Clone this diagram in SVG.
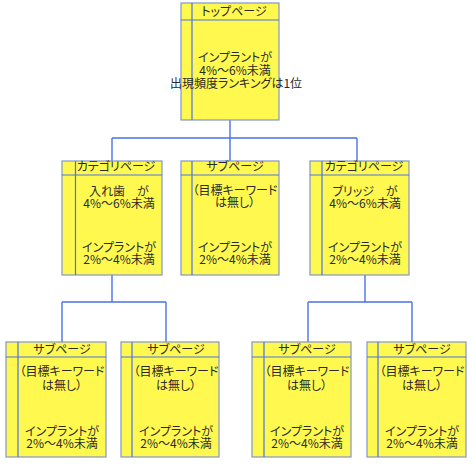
<svg xmlns="http://www.w3.org/2000/svg" width="472" height="464" viewBox="0 0 472 464">
<style>
.box{fill:#FFF94F;stroke:#8095d0;stroke-width:1.2}
.ln{stroke:#4a72e8;stroke-width:1.2;fill:none}
.t{font-family:"Noto Sans CJK JP","Noto Sans",sans-serif;font-size:12px;font-feature-settings:"palt";fill:#2a2a2a;text-anchor:middle}
.c{stroke:#4a72e8;stroke-width:1.4;fill:none}
</style>
<rect width="472" height="464" fill="#fff"/>
<g id="connectors">
<path class="c" d="M230 120V161M112 138H357M112 138V161M357 138V161"/>
<path class="c" d="M112 275V302M62 302H166M62 302V342M166 302V342"/>
<path class="c" d="M365 275V302M308 302H412M308 302V342M412 302V342"/>
</g>
<g id="top">
<rect class="box" x="181" y="3" width="98" height="117"/>
<path class="ln" d="M181 20H279M192 3V120"/>
<text class="t" x="234" y="16">トップページ</text>
<text class="t" x="235" y="62">インプラントが</text>
<text class="t" x="235" y="75">4%～6%未満</text>
<text class="t" x="236" y="88">出現頻度ランキングは1位</text>
</g>
<g id="cat1">
<rect class="box" x="62" y="161" width="100" height="114"/>
<path class="ln" d="M62 175H162M75.5 161V275"/>
<text class="t" x="116" y="171">カテゴリページ</text>
<text class="t" x="119" y="196">入れ歯　が</text>
<text class="t" x="119" y="208">4%～6%未満</text>
<text class="t" x="119" y="252">インプラントが</text>
<text class="t" x="119" y="264">2%～4%未満</text>
</g>
<g id="sub0">
<rect class="box" x="181" y="161" width="98" height="114"/>
<path class="ln" d="M181 175H279M192 161V275"/>
<text class="t" x="235" y="171">サブページ</text>
<text class="t" x="235" y="195">（目標キーワード</text>
<text class="t" x="235" y="207">は無し）</text>
<text class="t" x="235" y="252">インプラントが</text>
<text class="t" x="235" y="264">2%～4%未満</text>
</g>
<g id="cat2">
<rect class="box" x="310" y="161" width="99" height="114"/>
<path class="ln" d="M310 175H409M322 161V275"/>
<text class="t" x="364" y="171">カテゴリページ</text>
<text class="t" x="365" y="196">ブリッジ　が</text>
<text class="t" x="365" y="208">4%～6%未満</text>
<text class="t" x="365" y="252">インプラントが</text>
<text class="t" x="365" y="264">2%～4%未満</text>
</g>
<g id="sub1">
<rect class="box" x="6" y="342" width="100" height="115"/>
<path class="ln" d="M6 357H106M18 342V457"/>
<text class="t" x="62" y="354">サブページ</text>
<text class="t" x="62" y="376">（目標キーワード</text>
<text class="t" x="62" y="390">は無し）</text>
<text class="t" x="62" y="436">インプラントが</text>
<text class="t" x="62" y="448">2%～4%未満</text>
</g>
<g id="sub2">
<rect class="box" x="121" y="342" width="98" height="115"/>
<path class="ln" d="M121 357H219M132 342V457"/>
<text class="t" x="176" y="354">サブページ</text>
<text class="t" x="176" y="376">（目標キーワード</text>
<text class="t" x="176" y="390">は無し）</text>
<text class="t" x="176" y="436">インプラントが</text>
<text class="t" x="176" y="448">2%～4%未満</text>
</g>
<g id="sub3">
<rect class="box" x="252" y="342" width="99" height="115"/>
<path class="ln" d="M252 357H351M264 342V457"/>
<text class="t" x="307" y="354">サブページ</text>
<text class="t" x="307" y="376">（目標キーワード</text>
<text class="t" x="307" y="390">は無し）</text>
<text class="t" x="307" y="436">インプラントが</text>
<text class="t" x="307" y="448">2%～4%未満</text>
</g>
<g id="sub4">
<rect class="box" x="367" y="342" width="99" height="115"/>
<path class="ln" d="M367 357H466M378 342V457"/>
<text class="t" x="422" y="354">サブページ</text>
<text class="t" x="422" y="376">（目標キーワード</text>
<text class="t" x="422" y="390">は無し）</text>
<text class="t" x="422" y="436">インプラントが</text>
<text class="t" x="422" y="448">2%～4%未満</text>
</g>
</svg>
